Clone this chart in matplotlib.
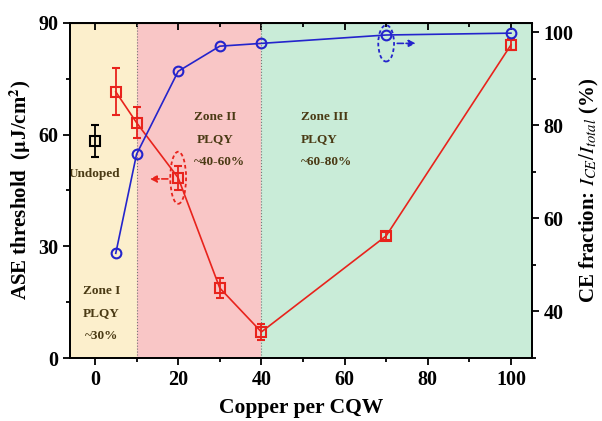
import matplotlib.pyplot as plt
from matplotlib.patches import Ellipse
from matplotlib.ticker import MultipleLocator

# ASE threshold (left axis)
cu = [5, 10, 20, 30, 40, 70, 100]
ase = [71.5, 63.2, 48.4, 18.8, 7.0, 32.8, 84.1]
ase_err = [6.3, 4.2, 3.2, 2.8, 2.2, 1.0, 1.5]
undoped_x = [0]
undoped_y = [58.3]
undoped_err = [4.2]

# CE fraction (right axis)
ce = [52.5, 73.8, 91.6, 97.0, 97.6, 99.4, 99.8]

zones = [(-6, 10, '#fcefcc'), (10, 40, '#f9c6c6'), (40, 105, '#c9ecd8')]

plt.rcParams['font.family'] = ['Liberation Serif', 'DejaVu Serif']
plt.rcParams['mathtext.fontset'] = 'stix'

fig = plt.figure(figsize=(6.02, 4.21), dpi=100)
ax = fig.add_axes([0.1163, 0.1496, 0.767, 0.796])

for a, b, c in zones:
    ax.axvspan(a, b, color=c, lw=0, zorder=0)
for v in [10, 40]:
    ax.axvline(v, color='#777777', ls=':', lw=0.8, zorder=1)

red = '#e8231c'
blue = '#2424cc'
ax.errorbar(cu, ase, yerr=ase_err, color=red, marker='s', ms=6.5, mfc='none',
            mec=red, mew=1.5, lw=1.2, capsize=3, elinewidth=1.3, zorder=3)
ax.errorbar(undoped_x, undoped_y, yerr=undoped_err, color='black', marker='s',
            ms=6.5, mfc='none', mew=1.5, capsize=3, elinewidth=1.3, ls='none', zorder=3)

ax.set_xlim(-6, 105)
ax.set_ylim(0, 90)
ax.xaxis.set_major_locator(MultipleLocator(20))
ax.xaxis.set_minor_locator(MultipleLocator(10))
ax.yaxis.set_major_locator(MultipleLocator(30))
ax.yaxis.set_minor_locator(MultipleLocator(15))
ax.tick_params(which='both', direction='out', width=1.3, labelsize=14.5)
ax.tick_params(which='major', length=5)
ax.tick_params(which='minor', length=3)
for lab in ax.get_xticklabels() + ax.get_yticklabels():
    lab.set_fontweight('bold')
ax.set_xlabel('Copper per CQW', fontsize=15.5, fontweight='bold', labelpad=6)
ax.set_ylabel(r'ASE threshold  ($\mathbf{\mu}$J/cm$^{\mathbf{2}}$)', fontsize=15,
              fontweight='bold', labelpad=4)

# top inward ticks
top = ax.secondary_xaxis('top')
top.xaxis.set_major_locator(MultipleLocator(20))
top.xaxis.set_minor_locator(MultipleLocator(10))
top.tick_params(which='both', direction='in', width=1.3, labeltop=False)
top.tick_params(which='major', length=5)
top.tick_params(which='minor', length=3)

ax2 = ax.twinx()
ax2.plot(cu, ce, color=blue, marker='o', ms=7, mfc='none', mec=blue, mew=1.5,
         lw=1.2, zorder=4)
ax2.set_ylim(30, 102)
ax2.yaxis.set_major_locator(MultipleLocator(20))
ax2.yaxis.set_minor_locator(MultipleLocator(10))
ax2.tick_params(which='both', direction='out', width=1.3, labelsize=14.5)
ax2.tick_params(which='major', length=5)
ax2.tick_params(which='minor', length=3)
for lab in ax2.get_yticklabels():
    lab.set_fontweight('bold')
ax2.set_ylabel(r'CE fraction: $\mathbf{\mathit{I_{CE}/I_{total}}}$ (%)', fontsize=15,
               fontweight='bold', labelpad=3)

for s in list(ax.spines.values()) + list(ax2.spines.values()):
    s.set_linewidth(1.3)

# annotations
txt = '#4a3a14'
ax.text(0, 49.5, 'Undoped', ha='center', va='center', fontsize=9.5, fontweight='bold', color=txt)
ax.text(1.5, 18, 'Zone I', ha='center', va='center', fontsize=9.5, fontweight='bold', color=txt)
ax.text(1.5, 12, 'PLQY', ha='center', va='center', fontsize=9.5, fontweight='bold', color=txt)
ax.text(1.5, 6, '~30%', ha='center', va='center', fontsize=9.5, fontweight='bold', color=txt)
ax.text(29, 64.8, 'Zone II', ha='center', va='center', fontsize=9.5, fontweight='bold', color=txt)
ax.text(29, 58.9, 'PLQY', ha='center', va='center', fontsize=9.5, fontweight='bold', color=txt)
ax.text(30, 52.7, '~40-60%', ha='center', va='center', fontsize=9.5, fontweight='bold', color=txt)
ax.text(49.5, 64.8, 'Zone III', ha='left', va='center', fontsize=9.5, fontweight='bold', color=txt)
ax.text(49.5, 58.9, 'PLQY', ha='left', va='center', fontsize=9.5, fontweight='bold', color=txt)
ax.text(49.5, 52.7, '~60-80%', ha='left', va='center', fontsize=9.5, fontweight='bold', color=txt)

ax.add_patch(Ellipse((20, 48.4), 3.8, 14, fill=False, ec=red, ls=(0, (2, 1.5)),
                     lw=1.3, zorder=5))
ax.annotate('', xy=(12.5, 48.1), xytext=(18.2, 48.1),
            arrowprops=dict(arrowstyle='-|>', color=red, ls='--', lw=1.2), zorder=5)
ax2.add_patch(Ellipse((70, 97.6), 3.8, 7.8, fill=False, ec=blue, ls=(0, (2, 1.5)),
                      lw=1.3, zorder=5))
ax2.annotate('', xy=(77.8, 97.6), xytext=(72, 97.6),
             arrowprops=dict(arrowstyle='-|>', color=blue, ls='--', lw=1.2), zorder=5)

fig.savefig('out.png', dpi=100)
